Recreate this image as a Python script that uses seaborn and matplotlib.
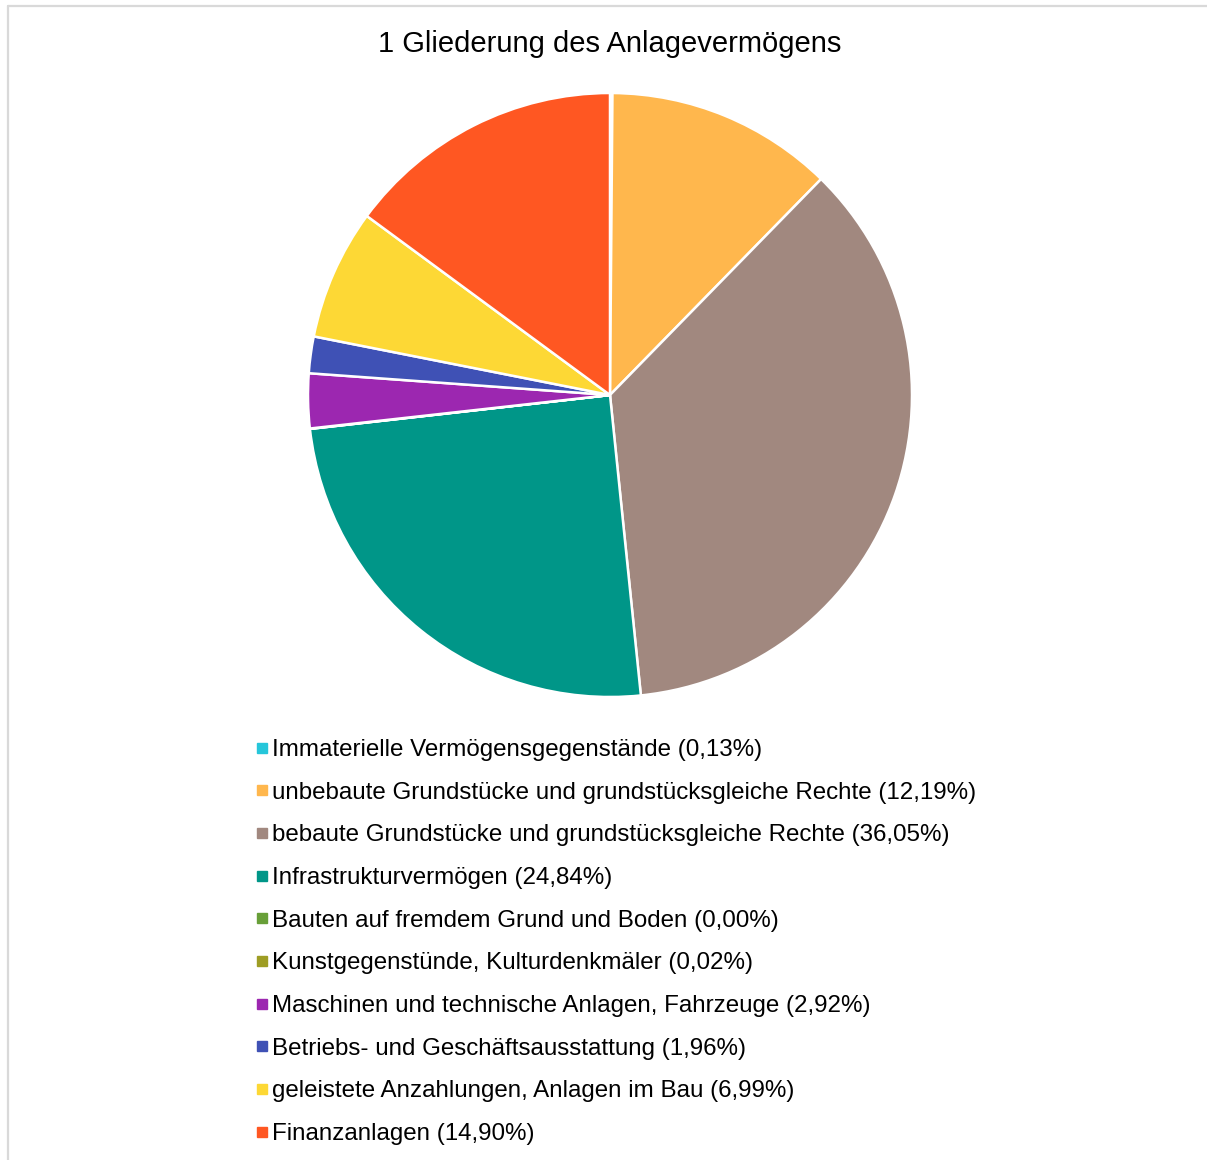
import matplotlib.pyplot as plt
import seaborn as sns
from matplotlib.lines import Line2D

categories = [
    "Immaterielle Vermögensgegenstände",
    "unbebaute Grundstücke und grundstücksgleiche Rechte",
    "bebaute Grundstücke und grundstücksgleiche Rechte",
    "Infrastrukturvermögen",
    "Bauten auf fremdem Grund und Boden",
    "Kunstgegenstünde, Kulturdenkmäler",
    "Maschinen und technische Anlagen, Fahrzeuge",
    "Betriebs- und Geschäftsausstattung",
    "geleistete Anzahlungen, Anlagen im Bau",
    "Finanzanlagen",
]
shares = [0.13, 12.19, 36.05, 24.84, 0.00, 0.02, 2.92, 1.96, 6.99, 14.90]
colors = ["#26C6DA", "#FFB74D", "#A1887F", "#009688", "#689F38",
          "#9E9D24", "#9C27B0", "#3F51B5", "#FDD835", "#FF5722"]

sns.set_theme(style="white")
plt.rcParams['font.family'] = ['Liberation Sans', 'DejaVu Sans']
plt.rcParams['text.color'] = 'black'

fig = plt.figure(figsize=(12.07, 11.6), dpi=100)
W, H = 1207, 1160
cx, cy, r = 610, 395, 302
ax = fig.add_axes([(cx - r) / W, 1 - (cy + r) / H, 2 * r / W, 2 * r / H])

wedges, _ = ax.pie(shares, colors=colors, startangle=90, counterclock=False,
                   wedgeprops=dict(edgecolor="white", linewidth=1.8))
ax.set_xlim(-1, 1)
ax.set_ylim(-1, 1)
ax.set_aspect("equal")
ax.axis("off")

fig.text(cx / W, 1 - 44.5 / H, "1 Gliederung des Anlagevermögens",
         ha="center", va="center", fontsize=21, color="black")

labels = [f"{c} ({v:.2f}%)".replace(".", ",") for c, v in zip(categories, shares)]
handles = [Line2D([], [], linestyle="none", marker="s", markersize=7,
                  markerfacecolor=col, markeredgecolor=col) for col in colors]
leg = fig.legend(handles, labels, loc="upper left", bbox_to_anchor=(257 / W, 1 - 739 / H),
                 frameon=False, fontsize=17.4, handlelength=0.4, handletextpad=0.2,
                 labelspacing=0.855, borderaxespad=0, borderpad=0)
for t in leg.get_texts():
    t.set_color("black")

# light outer frame like the source chart area
fig.add_artist(Line2D([7.5 / W, 1], [1 - 5.5 / H, 1 - 5.5 / H], color="#D9D9D9", lw=1.6))
fig.add_artist(Line2D([7.5 / W, 7.5 / W], [0, 1 - 5.5 / H], color="#D9D9D9", lw=1.6))

fig.savefig("out.png", dpi=100, facecolor="white")
